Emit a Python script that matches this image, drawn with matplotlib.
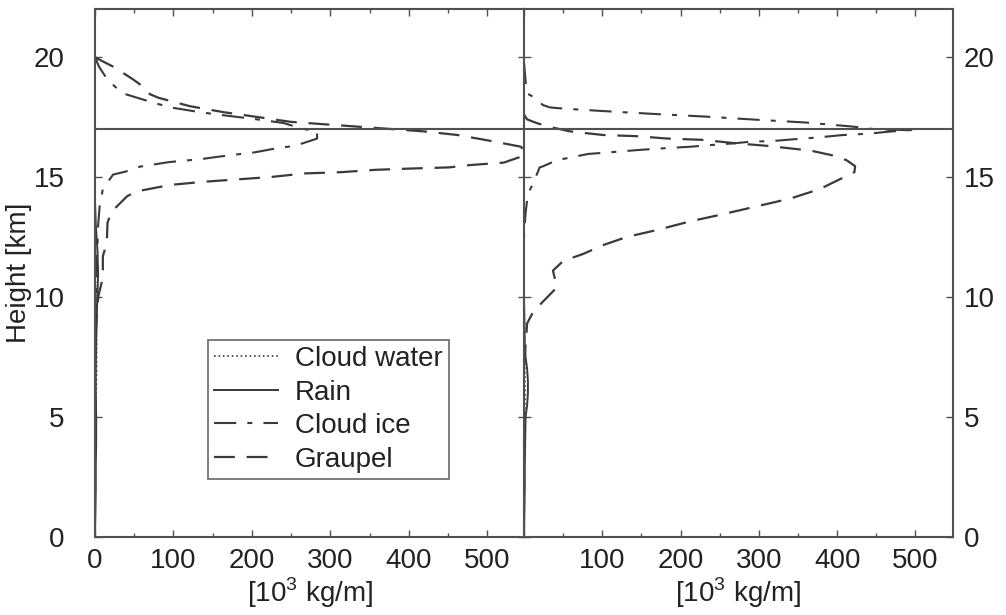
import matplotlib
matplotlib.use('Agg')
import matplotlib.pyplot as plt
from matplotlib.ticker import MultipleLocator, FixedLocator

plt.rcParams['font.family'] = ['Liberation Sans', 'DejaVu Sans']
plt.rcParams['mathtext.fontset'] = 'custom'
plt.rcParams['mathtext.rm'] = 'Liberation Sans'
plt.rcParams['lines.scale_dashes'] = False

# ---------------- data (height km, value 10^3 kg/m) ----------------
series_names = ['Cloud water', 'Rain', 'Cloud ice', 'Graupel']

left_water_h = [3, 4, 5, 6, 7, 8, 9, 10, 11, 12]
left_water_v = [0, 0.5, 1, 1.5, 2, 2, 1.5, 1, 0.5, 0]
left_rain_h = [0, 1, 2, 3, 4, 5, 6, 7, 8, 9, 10, 11, 12, 13, 14]
left_rain_v = [0, 0.5, 1, 1, 1.5, 1.5, 1, 1, 1.5, 2, 3, 4, 3, 1, 0]
left_ice_h = [20.0, 19.6, 19.1, 18.5, 18.1, 17.9, 17.7, 17.6, 17.4, 17.25, 17.0, 16.9,
              16.6, 16.3, 16.2, 16.03, 15.87, 15.75, 15.62, 15.43, 15.25, 15.1, 14.5,
              13.8, 13.0, 12.0, 11.0, 10.0, 9.0, 8.0]
left_ice_v = [0, 5, 15, 34, 74, 96, 134, 157, 207, 240, 266, 283,
              283, 255, 232, 204, 163, 136, 94, 57, 42, 23, 10,
              6, 4, 3, 2, 1, 0.5, 0]
left_graupel_h = [20.0, 19.95, 19.6, 19.1, 18.8, 18.45, 18.3, 17.95, 17.7, 17.5, 17.3,
                  17.2, 17.1, 17.0, 16.9, 16.75, 16.5, 16.26, 16.0, 15.85, 15.6, 15.5,
                  15.4, 15.35, 15.3, 15.2, 15.15, 15.0, 14.9, 14.8, 14.67, 14.4, 14.2,
                  13.55, 13.1, 12.25, 11.7, 10.8, 10.0, 9.0, 8.0]
left_graupel_v = [0, 2, 23, 47, 60, 70, 81, 121, 164, 207, 249,
                  291, 334, 377, 419, 462, 505, 543, 548, 543, 521, 479,
                  451, 400, 358, 313, 268, 224, 181, 138, 96, 53, 41,
                  21, 16, 15, 10, 10, 4, 2, 0]

right_water_h = [2, 3, 4, 5, 6, 7, 8, 9, 10]
right_water_v = [0, 0.5, 1, 1, 1.5, 1, 1, 0.5, 0]
right_rain_h = [0, 1, 2, 3, 4, 5, 5.5, 6, 6.5, 7, 7.5, 8, 9, 10]
right_rain_v = [0, 0.5, 1, 1, 1.5, 2, 4, 5, 5, 4, 2, 1, 0.5, 0]
right_ice_h = [19.8, 19.0, 18.5, 18.3, 18.0, 17.9, 17.85, 17.75, 17.62, 17.52, 17.38,
               17.27, 17.1, 17.0, 16.95, 16.97, 16.9, 16.8, 16.75, 16.64, 16.57, 16.5,
               16.47, 16.4, 16.33, 16.26, 16.2, 16.13, 16.05, 15.96, 15.85, 15.7,
               15.43, 15.4, 14.75, 14.3, 13.5, 12.5]
right_ice_v = [0, 2, 3, 14, 24, 33, 50, 100, 170, 230, 300,
               360, 420, 446, 490, 500, 470, 438, 408, 372, 344, 318,
               289, 267, 238, 212, 180, 148, 118, 82, 65, 42,
               23, 20, 12, 5, 2, 0]
right_graupel_h = [17.6, 17.4, 17.25, 17.1, 16.9, 16.75, 16.7, 16.6, 16.55, 16.4, 16.3,
                   16.15, 16.08, 15.88, 15.7, 15.45, 15.2, 14.9, 14.5, 14.1, 13.8,
                   13.45, 13.15, 12.8, 12.5, 12.15, 11.8, 11.5, 11.1, 10.4, 9.4, 8.9,
                   8.0, 7.0]
right_graupel_v = [0, 4, 16, 31, 59, 101, 144, 184, 227, 272, 310,
                   352, 369, 397, 412, 423, 422, 403, 378, 340, 300,
                   254, 212, 171, 131, 100, 76, 50, 37, 42, 12, 4,
                   2, 0]

tropopause_km = 17.0
x_ticks = [0, 100, 200, 300, 400, 500]
left_xticklabels = ['0', '100', '200', '300', '400', '500']
right_xticklabels = ['', '100', '200', '300', '400', '500']
y_ticks = [0, 5, 10, 15, 20]
y_ticklabels = ['0', '5', '10', '15', '20']
x_label = r'[10$^{\mathrm{3}}$ kg/m]'
y_label = 'Height [km]'

# ---------------- styling ----------------
FS = 20
LC = '#3a3a3a'
SC = '#505050'
TC = '#222222'
styles = {
    'Cloud water': dict(dashes=(1.2, 2.0), lw=1.2),
    'Rain': dict(linestyle='-', lw=1.4),
    'Cloud ice': dict(dashes=(16, 8, 3.6, 8), lw=1.5),
    'Graupel': dict(dashes=(15, 8.5), lw=1.6),
}

fig = plt.figure(figsize=(10.06, 6.15), dpi=100)
W, H = 1006, 615
b = 1 - 537 / H
h = 528 / H
axL = fig.add_axes([95 / W, b, 430 / W, h])
axR = fig.add_axes([524 / W, b, 429 / W, h])

panels = [
    (axL, [(left_water_v, left_water_h), (left_rain_v, left_rain_h),
           (left_ice_v, left_ice_h), (left_graupel_v, left_graupel_h)]),
    (axR, [(right_water_v, right_water_h), (right_rain_v, right_rain_h),
           (right_ice_v, right_ice_h), (right_graupel_v, right_graupel_h)]),
]

handles = []
for ax, data in panels:
    for name, (xv, yv) in zip(series_names, data):
        ln, = ax.plot(xv, yv, color=LC, label=name, **styles[name])
        if ax is axL:
            handles.append(ln)
    ax.axhline(tropopause_km, color=SC, lw=1.5)
    ax.set_xlim(0, 548)
    ax.set_ylim(0, 22)
    ax.xaxis.set_major_locator(FixedLocator(x_ticks))
    ax.xaxis.set_minor_locator(MultipleLocator(50))
    ax.yaxis.set_major_locator(FixedLocator(y_ticks))
    for s in ax.spines.values():
        s.set_color(SC)
        s.set_linewidth(1.5)
    ax.tick_params(which='both', direction='in', top=True, bottom=True,
                   left=True, right=True, color=SC, labelsize=FS,
                   labelcolor=TC)
    ax.tick_params(which='major', length=5, width=1.0)
    ax.tick_params(which='minor', length=3, width=1.0)
    ax.tick_params(axis='x', pad=8)
    ax.set_xlabel(x_label, fontsize=FS, color=TC, labelpad=1)

axL.set_xticklabels(left_xticklabels)
axL.set_yticklabels(y_ticklabels)
axL.tick_params(axis='y', pad=22)
axL.set_ylabel(y_label, fontsize=FS, color=TC, labelpad=1)

axR.set_xticklabels(right_xticklabels)
axR.set_yticklabels(y_ticklabels)
axR.tick_params(axis='y', labelleft=False, labelright=True, pad=8)

leg = axL.legend(handles=handles, loc='upper left', bbox_to_anchor=(0.263, 0.373),
                 borderaxespad=0, fontsize=FS, frameon=True, fancybox=False,
                 handlelength=2.3, handletextpad=0.6, labelspacing=0.27,
                 borderpad=0.22)
leg.get_frame().set_edgecolor(SC)
leg.get_frame().set_linewidth(1.3)
for t in leg.get_texts():
    t.set_color(TC)

fig.savefig('out.png', dpi=100)
